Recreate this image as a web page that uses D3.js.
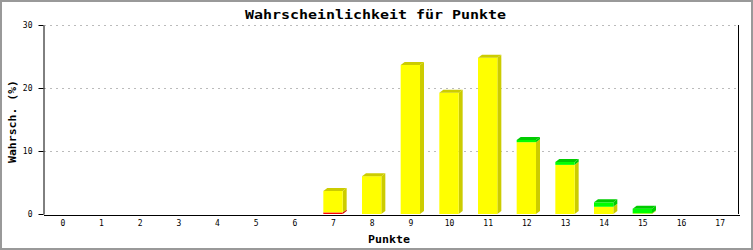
<!DOCTYPE html>
<html>
<head>
<meta charset="utf-8">
<script src="https://cdn.jsdelivr.net/npm/d3@7"></script>
<style>
  body { margin: 0; background: #fff; }
  svg { display: block; }
  text { font-family: "DejaVu Sans Mono", "Liberation Mono", monospace; }
</style>
</head>
<body>
<div id="chart-container"></div>
<script>
const punkte = [0, 1, 2, 3, 4, 5, 6, 7, 8, 9, 10, 11, 12, 13, 14, 15, 16, 17];
const redValues    = [0, 0, 0, 0, 0, 0, 0, 0.25, 0, 0, 0, 0, 0, 0, 0, 0, 0, 0];
const yellowValues = [0, 0, 0, 0, 0, 0, 0, 3.4, 6.0, 23.65, 19.25, 24.8, 11.4, 7.8, 1.15, 0.1, 0, 0];
const greenValues  = [0, 0, 0, 0, 0, 0, 0, 0, 0, 0, 0, 0, 0.35, 0.45, 0.7, 0.75, 0, 0];
const yTicks = [0, 10, 20, 30];

const width = 753, height = 250;
const depthX = 4, depthY = 3;

// colours per layer: front face, side/top face
const layers = [
  { values: redValues, front: "#ff0000", dark: "#cc0000" },
  { values: yellowValues, front: "#ffff00", dark: "#cccc00" },
  { values: greenValues, front: "#00ff00", dark: "#00cc00" }
];

const svg = d3.select("#chart-container")
  .append("svg")
  .attr("width", width)
  .attr("height", height);

// outer frame
svg.append("rect")
  .attr("x", 1).attr("y", 1)
  .attr("width", width - 2).attr("height", height - 2)
  .attr("fill", "#fff")
  .attr("stroke", "#999")
  .attr("stroke-width", 2);

const xScale = d3.scaleBand()
  .domain(punkte)
  .range([43, 739])
  .paddingInner(0.5)
  .paddingOuter(0.25);

const yScale = d3.scaleLinear()
  .domain([0, 30])
  .range([214, 25]);

// grid lines
svg.append("g")
  .selectAll("line")
  .data(yTicks.filter(d => d > 0))
  .enter()
  .append("line")
  .attr("x1", 44)
  .attr("x2", 738)
  .attr("y1", d => Math.round(yScale(d)) + 0.5)
  .attr("y2", d => Math.round(yScale(d)) + 0.5)
  .attr("stroke", "#bbb")
  .attr("stroke-dasharray", "2,4");

// stacked 3d bars
punkte.forEach((p, i) => {
  let base = 0;
  const x0 = xScale(p);
  const w = xScale.bandwidth();
  const segs = [];
  layers.forEach(layer => {
    const v = layer.values[i];
    if (v > 0) {
      segs.push({ y0: base, y1: base + v, layer: layer });
      base += v;
    }
  });
  const g = svg.append("g");
  segs.forEach((s, k) => {
    const yTop = yScale(s.y1), yBot = yScale(s.y0);
    // side face
    g.append("polygon")
      .attr("points", [
        [x0 + w, yBot], [x0 + w + depthX, yBot - depthY],
        [x0 + w + depthX, yTop - depthY], [x0 + w, yTop]
      ].map(q => q.join(",")).join(" "))
      .attr("fill", s.layer.dark);
    // front face
    g.append("rect")
      .attr("x", x0)
      .attr("y", yTop)
      .attr("width", w)
      .attr("height", yBot - yTop)
      .attr("fill", s.layer.front);
    // top face only on the top segment
    if (k === segs.length - 1) {
      g.append("polygon")
        .attr("points", [
          [x0, yTop], [x0 + depthX, yTop - depthY],
          [x0 + w + depthX, yTop - depthY], [x0 + w, yTop]
        ].map(q => q.join(",")).join(" "))
        .attr("fill", s.layer.dark);
    }
  });
});

// axes
const xAxis = svg.append("g")
  .attr("transform", "translate(0.5, 214.5)")
  .call(d3.axisBottom(xScale).tickSize(0).tickSizeOuter(0).tickPadding(6));
xAxis.select(".domain").attr("stroke", "#000").attr("shape-rendering", "crispEdges");
xAxis.selectAll("text").style("font-size", "8px").attr("fill", "#000");

const yAxis = svg.append("g")
  .attr("transform", "translate(43.5, 0)")
  .call(d3.axisLeft(yScale).tickValues(yTicks).tickSize(5).tickSizeOuter(0).tickPadding(6));
yAxis.select(".domain").attr("stroke", "#000");
yAxis.selectAll("line").attr("stroke", "#000");
yAxis.selectAll("text").style("font-size", "8px").attr("fill", "#000");

// right edge of plot
svg.append("line")
  .attr("x1", 738.5).attr("x2", 738.5)
  .attr("y1", yScale(30)).attr("y2", yScale(0))
  .attr("stroke", "#000");

// title
svg.append("text")
  .attr("x", 375.5)
  .attr("y", 18.5)
  .attr("text-anchor", "middle")
  .attr("textLength", 261)
  .attr("lengthAdjust", "spacingAndGlyphs")
  .style("font-size", "12px")
  .style("font-weight", "bold")
  .text("Wahrscheinlichkeit für Punkte");

// axis labels
svg.append("text")
  .attr("x", 389)
  .attr("y", 243)
  .attr("text-anchor", "middle")
  .attr("textLength", 42)
  .attr("lengthAdjust", "spacingAndGlyphs")
  .style("font-size", "11px")
  .style("font-weight", "bold")
  .text("Punkte");

svg.append("text")
  .attr("transform", "translate(16, 121.5) rotate(-90)")
  .attr("text-anchor", "middle")
  .attr("textLength", 83)
  .attr("lengthAdjust", "spacingAndGlyphs")
  .style("font-size", "11px")
  .style("font-weight", "bold")
  .text("Wahrsch. (%)");
</script>
</body>
</html>
